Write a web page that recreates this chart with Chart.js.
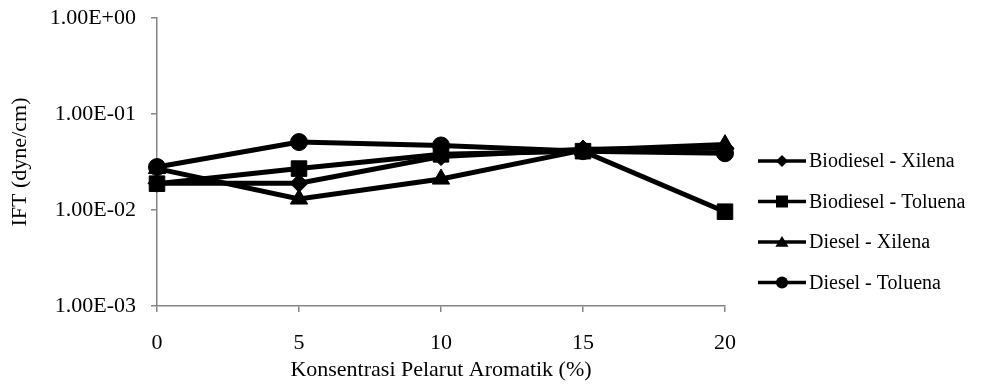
<!DOCTYPE html>
<html>
<head>
<meta charset="utf-8">
<script src="https://cdn.jsdelivr.net/npm/chart.js@4/dist/chart.umd.min.js"></script>
<style>
  html, body { margin: 0; padding: 0; background: #fff; }
  #wrap { width: 992px; height: 385px; position: relative; }
</style>
</head>
<body>
<div id="wrap"><canvas id="c"></canvas></div>
<script>
// values (log scale, dyne/cm)
const konsentrasi = ['0', '5', '10', '15', '20'];
const biodieselXilena = [0.019, 0.019, 0.036, 0.043, 0.044];
const biodieselToluena = [0.0188, 0.027, 0.038, 0.041, 0.0096];
const dieselXilena = [0.027, 0.013, 0.021, 0.042, 0.048];
const dieselToluena = [0.028, 0.051, 0.047, 0.041, 0.039];
const seriesNames = ['Biodiesel - Xilena', 'Biodiesel - Toluena', 'Diesel - Xilena', 'Diesel - Toluena'];
const yTicks = [0.001, 0.01, 0.1, 1];

const FONT = "'Liberation Serif', 'Times New Roman', serif";
const AXIS = '#868686';

// excel style 1.00E-02
function sci(v) {
  const m = v.toExponential(2).toUpperCase().match(/^(.*)E([+-])(\d+)$/);
  return m[1] + 'E' + m[2] + m[3].padStart(2, '0');
}

const styles = [
  { pointStyle: 'rectRot', radius: 9 },
  { pointStyle: 'rect', radius: 11 },
  { pointStyle: 'triangle', radius: 10 },
  { pointStyle: 'circle', radius: 8.5 },
];
const allSeries = [biodieselXilena, biodieselToluena, dieselXilena, dieselToluena];

const datasets = allSeries.map((d, i) => ({
  label: seriesNames[i],
  data: d,
  borderColor: '#000',
  backgroundColor: '#000',
  borderWidth: 5,
  pointStyle: styles[i].pointStyle,
  pointRadius: styles[i].radius,
  pointHoverRadius: styles[i].radius,
  pointBorderWidth: 1,
  tension: 0,
  order: 3 - i, // later series on top, like the original
}));

// legend: short line with the marker in the middle, text on the right
function marker(ctx, style, r, x, y) {
  ctx.beginPath();
  if (style === 'circle') {
    ctx.arc(x, y, r, 0, Math.PI * 2);
  } else if (style === 'rect') {
    ctx.rect(x - r, y - r, 2 * r, 2 * r);
  } else if (style === 'triangle') {
    ctx.moveTo(x, y - r);
    ctx.lineTo(x + r * 1.1, y + r * 0.8);
    ctx.lineTo(x - r * 1.1, y + r * 0.8);
    ctx.closePath();
  } else {
    ctx.moveTo(x, y - r);
    ctx.lineTo(x + r, y);
    ctx.lineTo(x, y + r);
    ctx.lineTo(x - r, y);
    ctx.closePath();
  }
  ctx.fill();
}

const lineLegend = {
  id: 'lineLegend',
  afterDraw(chart) {
    const ctx = chart.ctx;
    ctx.save();
    ctx.font = '20px ' + FONT;
    ctx.textBaseline = 'middle';
    ctx.fillStyle = '#000';
    ctx.strokeStyle = '#000';
    ctx.lineWidth = 3.5;
    chart.data.datasets.forEach((ds, i) => {
      const y = 161 + i * 40.5;
      ctx.beginPath();
      ctx.moveTo(758, y);
      ctx.lineTo(806, y);
      ctx.stroke();
      marker(ctx, ds.pointStyle, 6, 782, y);
      ctx.fillText(ds.label, 809, y + 1);
    });
    ctx.restore();
  }
};

new Chart(document.getElementById('c'), {
  type: 'line',
  data: { labels: konsentrasi, datasets },
  options: {
    responsive: true,
    maintainAspectRatio: false,
    animation: false,
    layout: { padding: { top: 18, right: 267, left: 0, bottom: 0 } },
    plugins: {
      legend: { display: false },
      tooltip: { enabled: false },
    },
    scales: {
      x: {
        type: 'category',
        offset: false,
        afterFit(s) { s.height = 79; },
        border: { color: AXIS, width: 1.5 },
        grid: { drawOnChartArea: false, tickLength: 6, color: AXIS, lineWidth: 1.5 },
        ticks: { color: '#000', font: { family: FONT, size: 22 }, padding: 18, maxRotation: 0 },
        title: {
          display: true,
          text: 'Konsentrasi Pelarut Aromatik (%)',
          color: '#000',
          font: { family: FONT, size: 22 },
          padding: { top: 0, bottom: 2 },
        },
      },
      y: {
        type: 'logarithmic',
        min: 0.001,
        max: 1,
        afterFit(s) { s.width = 157; s.paddingTop = 0; s.paddingBottom = 0; },
        afterBuildTicks(s) { s.ticks = yTicks.map(v => ({ value: v })); },
        border: { color: AXIS, width: 1.5 },
        grid: { drawOnChartArea: false, tickLength: 6, color: AXIS, lineWidth: 1.5 },
        ticks: { color: '#000', font: { family: FONT, size: 22 }, padding: 15, callback: v => sci(v) },
        title: {
          display: true,
          text: 'IFT (dyne/cm)',
          color: '#000',
          font: { family: FONT, size: 22 },
          padding: { top: 7, bottom: 0 },
        },
      },
    },
  },
  plugins: [lineLegend],
});
</script>
</body>
</html>
